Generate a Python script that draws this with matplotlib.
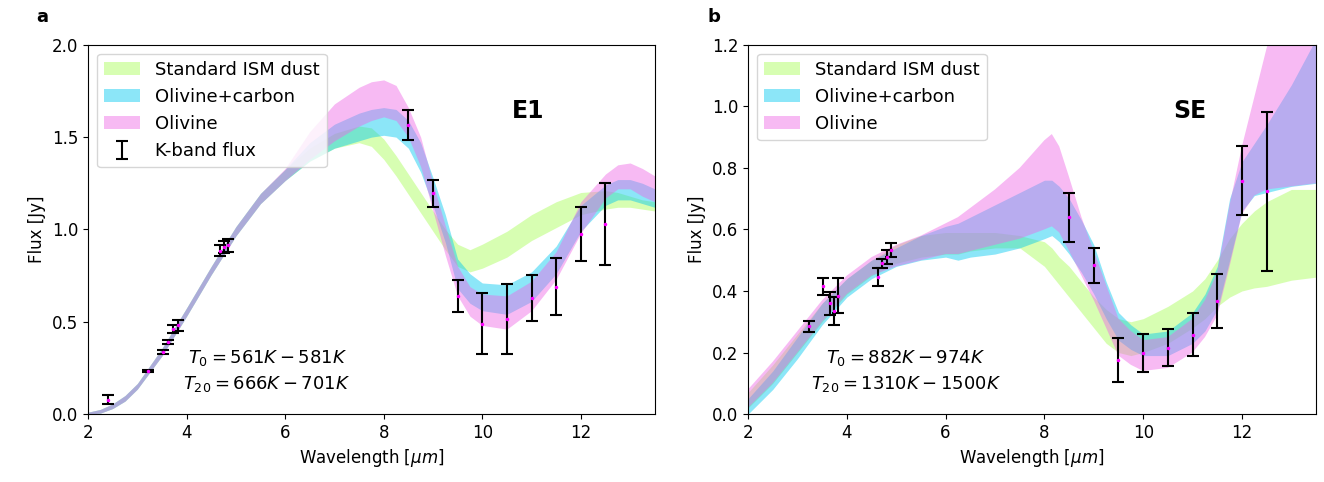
import matplotlib
matplotlib.use("Agg")
import matplotlib.pyplot as plt

# ---------------------------------------------------------------
# Panel a : E1
wl_e1 = [2.0, 2.25, 2.5, 2.75, 3.0, 3.5, 4.0, 4.5, 5.0, 5.5, 6.0, 6.5, 7.0, 7.5,
         7.75, 8.0, 8.25, 8.5, 8.75, 9.0, 9.25, 9.5, 9.75, 10.0, 10.5, 11.0,
         11.5, 12.0, 12.5, 12.75, 13.0, 13.25, 13.5]

ism_lo_e1 = [0.00, 0.005, 0.03, 0.07, 0.135, 0.315, 0.53, 0.755, 0.965, 1.14, 1.265, 1.37, 1.44, 1.47,
             1.45, 1.38, 1.29, 1.19, 1.09, 0.99, 0.89, 0.80, 0.77, 0.79, 0.85, 0.94,
             1.01, 1.08, 1.11, 1.12, 1.12, 1.11, 1.10]
ism_hi_e1 = [0.01, 0.025, 0.055, 0.10, 0.165, 0.355, 0.575, 0.80, 1.015, 1.195, 1.325, 1.44, 1.52, 1.56,
             1.55, 1.49, 1.40, 1.30, 1.20, 1.10, 1.00, 0.92, 0.89, 0.92, 0.99, 1.08,
             1.15, 1.20, 1.21, 1.20, 1.18, 1.16, 1.15]

olc_lo_e1 = [0.00, 0.005, 0.03, 0.07, 0.135, 0.315, 0.53, 0.755, 0.965, 1.14, 1.265, 1.37, 1.44, 1.48,
             1.50, 1.51, 1.50, 1.44, 1.31, 1.13, 0.93, 0.68, 0.60, 0.56, 0.54, 0.61,
             0.76, 0.99, 1.13, 1.16, 1.16, 1.14, 1.12]
olc_hi_e1 = [0.01, 0.025, 0.055, 0.10, 0.165, 0.355, 0.575, 0.80, 1.015, 1.195, 1.325, 1.47, 1.57, 1.63,
             1.65, 1.66, 1.65, 1.59, 1.47, 1.28, 1.08, 0.84, 0.76, 0.71, 0.70, 0.77,
             0.91, 1.13, 1.24, 1.27, 1.27, 1.25, 1.22]

oli_lo_e1 = [0.00, 0.005, 0.03, 0.07, 0.135, 0.315, 0.53, 0.755, 0.965, 1.14, 1.265, 1.38, 1.48, 1.56,
             1.59, 1.61, 1.59, 1.50, 1.34, 1.10, 0.86, 0.64, 0.53, 0.48, 0.46, 0.56,
             0.73, 0.98, 1.17, 1.22, 1.22, 1.18, 1.15]
oli_hi_e1 = [0.01, 0.025, 0.055, 0.10, 0.165, 0.355, 0.575, 0.80, 1.015, 1.195, 1.33, 1.53, 1.68, 1.77,
             1.80, 1.81, 1.78, 1.66, 1.50, 1.25, 1.02, 0.80, 0.69, 0.65, 0.64, 0.72,
             0.88, 1.15, 1.30, 1.35, 1.36, 1.33, 1.29]

kx_e1 = [2.4, 3.22, 3.52, 3.62, 3.73, 3.82, 4.67, 4.75, 4.85,
         8.5, 9.0, 9.5, 10.0, 10.5, 11.0, 11.5, 12.0, 12.5]
ky_e1 = [0.078, 0.235, 0.335, 0.39, 0.46, 0.48, 0.885, 0.905, 0.915,
         1.565, 1.195, 0.64, 0.49, 0.515, 0.63, 0.69, 0.975, 1.03]
kerr_e1 = [0.025, 0.006, 0.01, 0.012, 0.02, 0.028, 0.03, 0.03, 0.035,
           0.083, 0.072, 0.085, 0.165, 0.19, 0.125, 0.155, 0.148, 0.22]

# ---------------------------------------------------------------
# Panel b : SE
wl_se = [2.0, 2.5, 3.0, 3.5, 4.0, 4.5, 5.0, 5.5, 6.0, 6.25, 6.5, 7.0, 7.5, 8.0,
         8.15, 8.3, 8.5, 8.75, 9.0, 9.25, 9.5, 9.75, 10.0, 10.5, 11.0, 11.25,
         11.5, 11.75, 12.0, 12.25, 12.5, 13.0, 13.5]

ism_lo_se = [0.02, 0.10, 0.20, 0.30, 0.39, 0.45, 0.49, 0.51, 0.52, 0.52, 0.53, 0.54, 0.54, 0.48,
             0.45, 0.42, 0.38, 0.33, 0.28, 0.23, 0.20, 0.19, 0.20, 0.23, 0.28, 0.31,
             0.35, 0.38, 0.40, 0.41, 0.415, 0.435, 0.445]
ism_hi_se = [0.07, 0.16, 0.26, 0.36, 0.44, 0.50, 0.55, 0.58, 0.59, 0.59, 0.59, 0.59, 0.58, 0.56,
             0.54, 0.51, 0.48, 0.43, 0.38, 0.34, 0.31, 0.30, 0.31, 0.35, 0.40, 0.44,
             0.50, 0.57, 0.62, 0.66, 0.69, 0.73, 0.73]

olc_lo_se = [0.00, 0.08, 0.18, 0.29, 0.38, 0.44, 0.48, 0.50, 0.51, 0.50, 0.51, 0.52, 0.54, 0.57,
             0.58, 0.56, 0.52, 0.46, 0.39, 0.31, 0.24, 0.21, 0.19, 0.19, 0.23, 0.27,
             0.34, 0.50, 0.66, 0.71, 0.72, 0.74, 0.75]
olc_hi_se = [0.05, 0.14, 0.25, 0.36, 0.44, 0.50, 0.54, 0.58, 0.61, 0.62, 0.64, 0.68, 0.72, 0.76,
             0.76, 0.74, 0.70, 0.63, 0.55, 0.43, 0.33, 0.29, 0.26, 0.27, 0.33, 0.39,
             0.48, 0.70, 0.82, 0.88, 0.94, 1.07, 1.22]

oli_lo_se = [0.02, 0.10, 0.20, 0.30, 0.39, 0.45, 0.48, 0.50, 0.52, 0.52, 0.53, 0.55, 0.57, 0.60,
             0.61, 0.59, 0.53, 0.45, 0.37, 0.28, 0.19, 0.16, 0.14, 0.15, 0.20, 0.25,
             0.32, 0.48, 0.65, 0.71, 0.73, 0.74, 0.75]
oli_hi_se = [0.08, 0.17, 0.27, 0.37, 0.45, 0.51, 0.55, 0.58, 0.62, 0.64, 0.67, 0.73, 0.80, 0.89,
             0.91, 0.87, 0.77, 0.64, 0.53, 0.42, 0.31, 0.27, 0.24, 0.25, 0.31, 0.37,
             0.46, 0.68, 0.87, 1.03, 1.19, 1.45, 1.60]

kx_se = [3.24, 3.52, 3.65, 3.73, 3.83, 4.64, 4.71, 4.81, 4.9,
         8.5, 9.0, 9.5, 10.0, 10.5, 11.0, 11.5, 12.0, 12.5]
ky_se = [0.286, 0.415, 0.36, 0.335, 0.385, 0.445, 0.49, 0.51, 0.533,
         0.64, 0.483, 0.176, 0.198, 0.216, 0.258, 0.367, 0.759, 0.724]
kerr_se = [0.018, 0.028, 0.038, 0.047, 0.057, 0.03, 0.015, 0.022, 0.023,
           0.08, 0.058, 0.072, 0.062, 0.06, 0.07, 0.087, 0.113, 0.258]

labels = ["Standard ISM dust", "Olivine+carbon", "Olivine"]
colors = [("#7cfc00", 0.3), ("#00c8f0", 0.45), ("#ee66e6", 0.45)]

plt.rcParams['font.size'] = 12

fig = plt.figure(figsize=(13.24, 4.82), dpi=100)
ax1 = fig.add_axes([0.0665, 0.141, 0.428, 0.766])
ax2 = fig.add_axes([0.565, 0.141, 0.429, 0.766])


def draw_panel(ax, wl, bands, kx, ky, kerr, kband_label):
    for (lo, hi), lab, (c, a) in zip(bands, labels, colors):
        ax.fill_between(wl, lo, hi, color=c, alpha=a, lw=0, label=lab)
    ax.errorbar(kx, ky, yerr=kerr, fmt='none', ecolor='black', elinewidth=1.5,
                capsize=4, capthick=1.5, label=kband_label, zorder=3)
    ax.plot(kx, ky, '.', color='magenta', ms=3, zorder=4)
    ax.set_xlim(2, 13.5)
    ax.set_xticks([2, 4, 6, 8, 10, 12])
    ax.set_xlabel(r"Wavelength [$\mu m$]")
    ax.set_ylabel("Flux [Jy]")
    ax.legend(loc='upper left', fontsize=13, handlelength=2.0)


draw_panel(ax1, wl_e1,
           [(ism_lo_e1, ism_hi_e1), (olc_lo_e1, olc_hi_e1), (oli_lo_e1, oli_hi_e1)],
           kx_e1, ky_e1, kerr_e1, "K-band flux")
ax1.set_ylim(0, 2.0)
ax1.set_yticks([0.0, 0.5, 1.0, 1.5, 2.0])
ax1.text(0.777, 0.82, "E1", transform=ax1.transAxes, fontsize=17,
         fontweight='bold', ha='center', va='center')
ax1.text(0.316, 0.153, r"$T_0 = 561K - 581K$", transform=ax1.transAxes,
         ha='center', va='center', fontsize=13)
ax1.text(0.316, 0.081, r"$T_{20} = 666K - 701K$", transform=ax1.transAxes,
         ha='center', va='center', fontsize=13)

draw_panel(ax2, wl_se,
           [(ism_lo_se, ism_hi_se), (olc_lo_se, olc_hi_se), (oli_lo_se, oli_hi_se)],
           kx_se, ky_se, kerr_se, None)
ax2.set_ylim(0, 1.2)
ax2.set_yticks([0.0, 0.2, 0.4, 0.6, 0.8, 1.0, 1.2])
ax2.text(0.777, 0.82, "SE", transform=ax2.transAxes, fontsize=17,
         fontweight='bold', ha='center', va='center')
ax2.text(0.278, 0.153, r"$T_0 = 882K - 974K$", transform=ax2.transAxes,
         ha='center', va='center', fontsize=13)
ax2.text(0.278, 0.081, r"$T_{20} = 1310K - 1500K$", transform=ax2.transAxes,
         ha='center', va='center', fontsize=13)

fig.text(0.032, 0.965, "a", fontsize=13, fontweight='bold', ha='center', va='center')
fig.text(0.539, 0.965, "b", fontsize=13, fontweight='bold', ha='center', va='center')

fig.savefig("out.png", dpi=100)
